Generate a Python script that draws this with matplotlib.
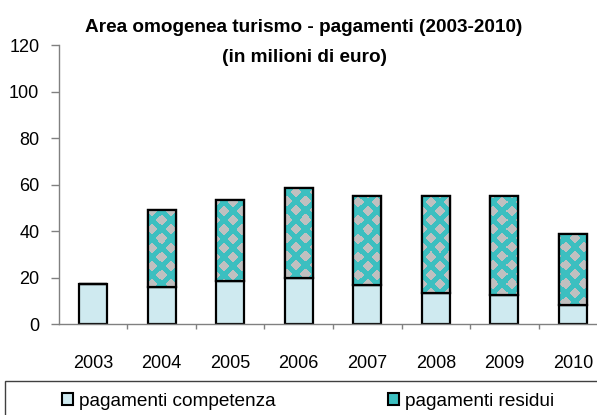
import numpy as np
import matplotlib
matplotlib.use("Agg")
import matplotlib.pyplot as plt
from matplotlib.patches import Patch, Rectangle
from matplotlib.ticker import FixedLocator

# ---- data ----
years = ["2003", "2004", "2005", "2006", "2007", "2008", "2009", "2010"]
competenza = [17.2, 16.2, 18.8, 19.8, 17.1, 13.6, 12.7, 8.4]
residui = [0.0, 33.0, 34.7, 38.8, 38.1, 41.6, 42.5, 30.5]
y_ticks = [0, 20, 40, 60, 80, 100, 120]
title1 = "Area omogenea turismo - pagamenti (2003-2010)"
title2 = "(in milioni di euro)"
label_comp = "pagamenti competenza"
label_res = "pagamenti residui"

# ---- style ----
LIGHT = "#cfeaf0"
TEAL = "#3cbfc0"
GRAY = "#c0c0c0"
AXCOL = "#808080"
FONT = "Liberation Sans"
plt.rcParams["font.family"] = [FONT, "DejaVu Sans"]

W, H = 597, 415
fig = plt.figure(figsize=(W / 100, H / 100), dpi=100)
ax_left, ax_right = 58.7, 607.3
ax_bottom, ax_top = 324.3, 45.3
ax = fig.add_axes([ax_left / W, 1 - ax_bottom / H,
                   (ax_right - ax_left) / W, (ax_bottom - ax_top) / H])
ax.patch.set_alpha(0)

x = np.arange(len(years))
bw = 0.41
lw = 1.6
ax.bar(x, competenza, width=bw, color=LIGHT, edgecolor="black",
       linewidth=lw, zorder=2, label=label_comp)
b2 = ax.bar(x, residui, width=bw, bottom=competenza, color=TEAL,
            edgecolor="black", linewidth=lw, zorder=2, label=label_res)

# diamond pattern image in pixel space (one image pixel per screen pixel)
pw, ph = 549, 279
yy, xx = np.mgrid[0:ph, 0:pw].astype(float) + 0.5
p = 18.0
r = 5.8
def l1(xo, yo):
    dx = np.abs(((xx - xo) + p / 2) % p - p / 2)
    dy = np.abs(((yy - yo) + p / 2) % p - p / 2)
    return dx + dy
mask = (l1(3, 4) < r) | (l1(3 + p / 2, 4 + p / 2) < r)
rgb_t = np.array(matplotlib.colors.to_rgb(TEAL))
rgb_g = np.array(matplotlib.colors.to_rgb(GRAY))
img = np.where(mask[..., None], rgb_g, rgb_t)
for patch, v in zip(b2, residui):
    if v <= 0:
        continue
    im = ax.imshow(img, extent=(-0.5, 7.5, 0, 120), origin="upper",
                   aspect="auto", interpolation="nearest", zorder=2.5)
    im.set_clip_path(patch)
ax.bar(x, residui, width=bw, bottom=competenza, fill=False,
       edgecolor="black", linewidth=lw, zorder=3)

ax.set_xlim(-0.5, 7.5)
ax.set_ylim(0, 120)
ax.set_aspect("auto")

for s in ["top", "right"]:
    ax.spines[s].set_visible(False)
for s in ["left", "bottom"]:
    ax.spines[s].set_color(AXCOL)
    ax.spines[s].set_linewidth(1.0)

ax.set_yticks(y_ticks)
ax.set_yticklabels([str(v) for v in y_ticks])
ax.tick_params(axis="y", direction="out", length=6, width=1.0, color=AXCOL,
               pad=8, labelsize=13)
ax.set_xticks(x)
ax.set_xticklabels(years)
ax.tick_params(axis="x", which="major", length=0, pad=22, labelsize=13)
ax.xaxis.set_minor_locator(FixedLocator(np.arange(0.5, 7.6, 1.0)))
ax.tick_params(axis="x", which="minor", direction="out", length=3.6,
               width=1.0, color=AXCOL)

fig.text(304 / W, 1 - 32 / H, title1, ha="center", va="baseline",
         fontsize=13.7, fontweight="bold")
fig.text(304 / W, 1 - 62 / H, title2, ha="center", va="baseline",
         fontsize=13.7, fontweight="bold")

# legend frame
fig.patches.append(Rectangle((5 / W, -0.1), 1.2, (1 - 380.7 / H) + 0.1,
                             transform=fig.transFigure, fill=False,
                             edgecolor="#404040", linewidth=1.0))
handles = [Patch(facecolor=LIGHT, edgecolor="black", linewidth=1.5),
           Patch(facecolor=TEAL, edgecolor="black", linewidth=1.5)]
fig.legend(handles, [label_comp, label_res], loc="center left",
           bbox_to_anchor=(62 / W, 1 - 401 / H), ncol=2, frameon=False,
           fontsize=13.7, borderpad=0, borderaxespad=0, handlelength=0.6,
           handleheight=0.6, handletextpad=0.3, columnspacing=5.9)

fig.savefig("out.png", dpi=100)
